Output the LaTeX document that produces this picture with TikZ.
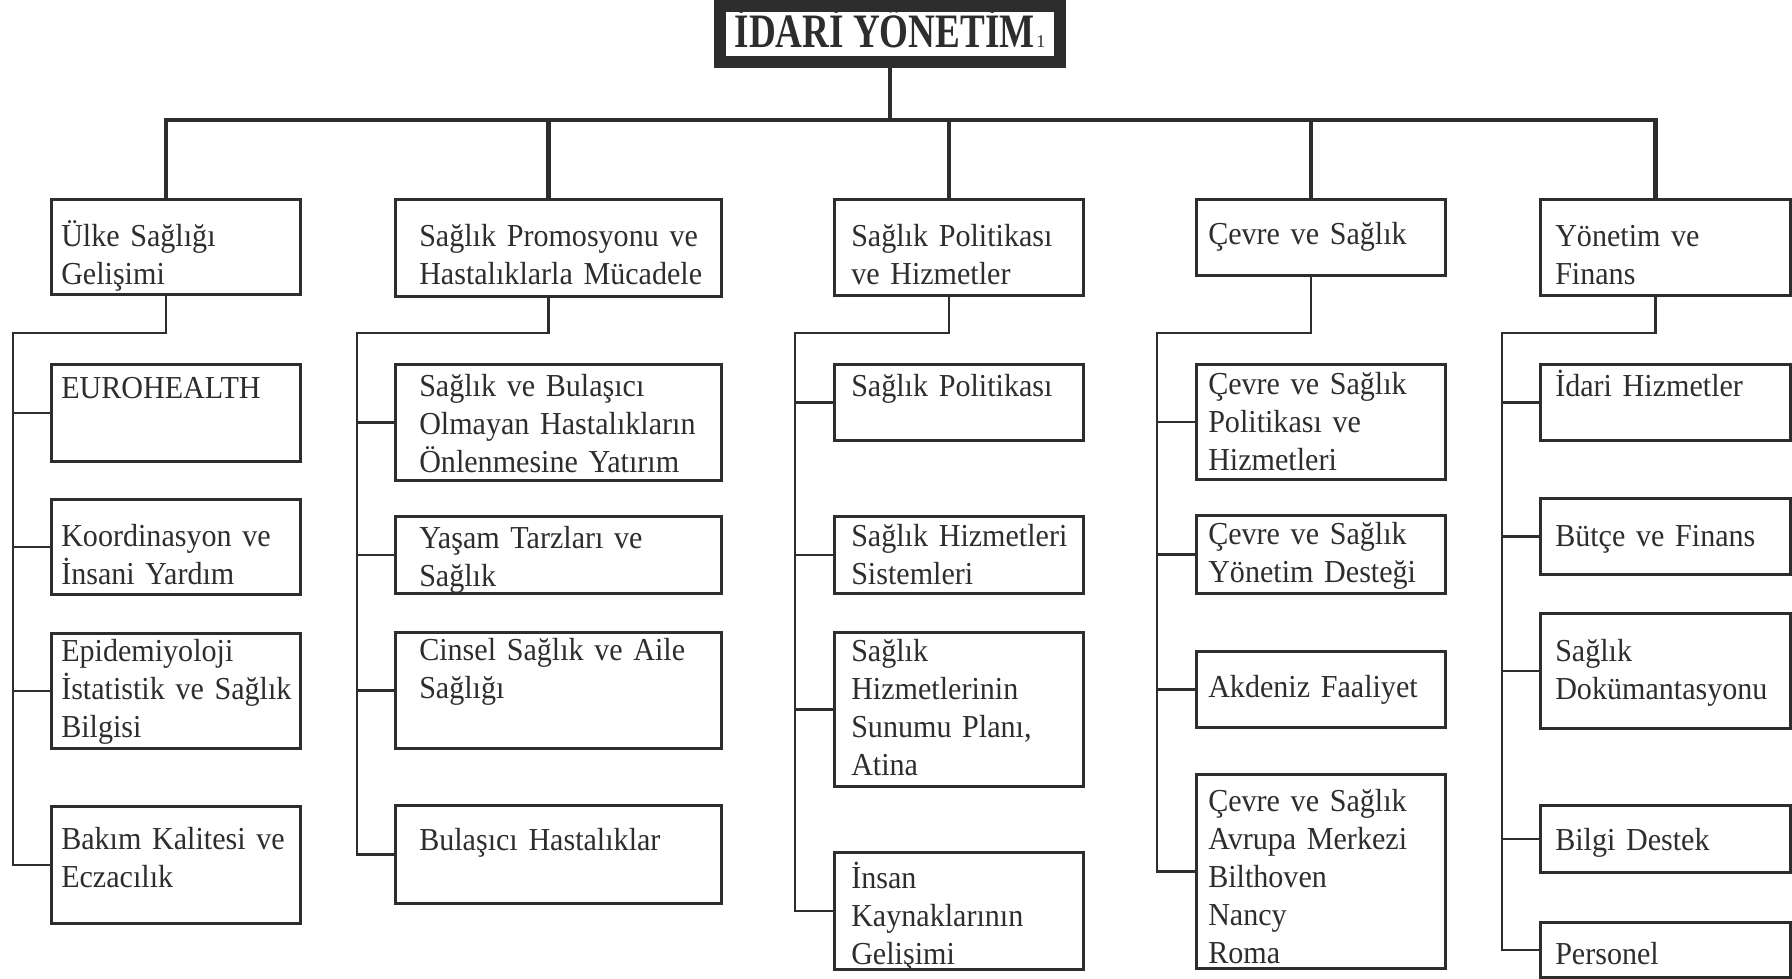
\documentclass[tikz,border=0pt]{standalone}
\usepackage{fontspec}
\setmainfont{Liberation Serif}
\newfontfamily\unitfamily{Liberation Serif}[FakeStretch=0.94]
\usepackage{graphicx}
\definecolor{ink}{RGB}{45,45,45}
\newcommand{\unitfont}{\unitfamily\fontsize{32}{38}\selectfont}

\tikzset{
  unitbox/.style={draw=ink, text=ink, line width=2.5pt, anchor=north west,
    inner sep=0pt, align=left, font=\unitfont},
  textin/.style={execute at begin node={\leftskip=#1pt}},
  col1/.style={unitbox, text width=249pt, textin=10},
  col2/.style={unitbox, text width=326pt, textin=24},
  col3/.style={unitbox, text width=249pt, textin=17},
  col4/.style={unitbox, text width=249pt, textin=12},
  col5/.style={unitbox, text width=250pt, textin=15},
  trunk/.style={draw=ink, line width=4.5pt},
  branch/.style={draw=ink, line width=2.5pt},
}

\begin{document}
\begin{tikzpicture}[x=1pt, y=-1pt]
\useasboundingbox (0,0) rectangle (1792,979);
% title
\node[draw=ink, text=ink, line width=12pt, inner sep=0pt, minimum width=340pt,
  minimum height=56pt, text height=30pt, text depth=2pt] (idari) at (890,34)
  {\scalebox{0.773}[1]{\fontsize{48}{48}\selectfont\bfseries İDARİ YÖNETİM}\,{\fontsize{18}{18}\selectfont 1}};

% departments
\node[col1, text height=47pt, text depth=48pt] (c1) at (50,198) {Ülke Sağlığı\\Gelişimi};
\node[col2, text height=47pt, text depth=50pt] (c2) at (394,198) {Sağlık Promosyonu ve\\Hastalıklarla Mücadele};
\node[col3, text height=47pt, text depth=49pt] (c3) at (833,198) {Sağlık Politikası\\ve Hizmetler};
\node[col4, text height=45pt, text depth=31pt] (c4) at (1195,198) {Çevre ve Sağlık};
\node[col5, text height=47pt, text depth=49pt] (c5) at (1539,198) {Yönetim ve\\Finans};

% units, column 1
\node[col1, text height=34pt, text depth=63pt] (c1a) at (50,363) {EUROHEALTH};
\node[col1, text height=47pt, text depth=48pt] (c1b) at (50,498) {Koordinasyon ve\\İnsani Yardım};
\node[col1, text height=28pt, text depth=87pt] (c1c) at (50,632) {Epidemiyoloji\\İstatistik~ve~Sağlık\\Bilgisi};
\node[col1, text height=43pt, text depth=74pt] (c1d) at (50,805) {Bakım Kalitesi ve\\Eczacılık};
% column 2
\node[col2, text height=32pt, text depth=84pt] (c2a) at (394,363) {Sağlık ve Bulaşıcı\\Olmayan Hastalıkların\\Önlenmesine Yatırım};
\node[col2, text height=32pt, text depth=45pt] (c2b) at (394,515) {Yaşam Tarzları ve\\Sağlık};
\node[col2, text height=28pt, text depth=88pt] (c2c) at (394,631) {Cinsel Sağlık ve Aile\\Sağlığı};
\node[col2, text height=45pt, text depth=53pt] (c2d) at (394,804) {Bulaşıcı Hastalıklar};
% column 3
\node[col3, text height=32pt, text depth=44pt] (c3a) at (833,363) {Sağlık Politikası};
\node[col3, text height=30pt, text depth=47pt] (c3b) at (833,515) {Sağlık Hizmetleri\\Sistemleri};
\node[col3, text height=29pt, text depth=125pt] (c3c) at (833,631) {Sağlık\\Hizmetlerinin\\Sunumu Planı,\\Atina};
\node[col3, text height=36pt, text depth=81pt] (c3d) at (833,851) {İnsan\\Kaynaklarının\\Gelişimi};
% column 4
\node[col4, text height=30pt, text depth=85pt] (c4a) at (1195,363) {Çevre ve Sağlık\\Politikası ve\\Hizmetleri};
\node[col4, text height=29pt, text depth=49pt] (c4b) at (1195,514) {Çevre ve Sağlık\\Yönetim Desteği};
\node[col4, text height=46pt, text depth=30pt] (c4c) at (1195,650) {Akdeniz Faaliyet};
\node[col4, text height=37pt, text depth=157pt] (c4d) at (1195,773) {Çevre ve Sağlık\\Avrupa Merkezi\\Bilthoven\\Nancy\\Roma};
% column 5
\node[col5, text height=32pt, text depth=44pt] (c5a) at (1539,363) {İdari Hizmetler};
\node[col5, text height=48pt, text depth=28pt] (c5b) at (1539,497) {Bütçe ve Finans};
\node[col5, text height=48pt, text depth=67pt] (c5c) at (1539,612) {Sağlık\\Dokümantasyonu};
\node[col5, text height=45pt, text depth=22pt] (c5d) at (1539,804) {Bilgi Destek};
\node[col5, text height=42pt, text depth=13pt] (c5e) at (1539,921) {Personel};

% top level lines
\draw[trunk] (idari.south) -- (idari.south |- 0,120) coordinate (hub);
\draw[trunk] ([xshift=-10pt]c1.north) |- (hub) -| ([xshift=-10pt]c5.north);
\foreach \c in {c2,c3,c4}
  \draw[trunk] ([xshift=-10pt]\c.north) -- ([xshift=-10pt]\c.north |- hub);

% spines
\coordinate (s1) at (13,333);
\coordinate (s2) at (357,333);
\coordinate (s3) at (795,333);
\coordinate (s4) at (1157,333);
\coordinate (s5) at (1502,333);
\foreach \k/\last in {1/d,2/d,3/d,4/d,5/e}
  \draw[branch] ([xshift=-10pt]c\k.south) |- (s\k) |- (c\k\last.west);
\foreach \b/\k in {c1a/1,c1b/1,c1c/1,c2a/2,c2b/2,c2c/2,c3a/3,c3b/3,c3c/3,
    c4a/4,c4b/4,c4c/4,c5a/5,c5b/5,c5c/5,c5d/5}
  \draw[branch] (\b.west) -- (\b.west -| s\k);
\end{tikzpicture}
\end{document}
